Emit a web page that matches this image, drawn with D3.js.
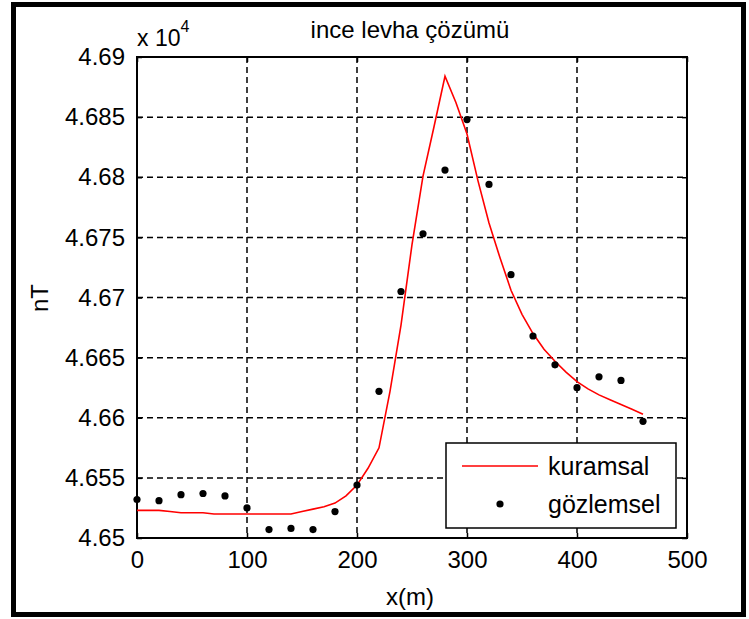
<!DOCTYPE html>
<head>
  <meta charset="utf-8">
  <script src="https://d3js.org/d3.v7.min.js"></script>
  <style>
    body { margin:0; background:#fff; }
    svg text { font-family: "Liberation Sans", Arial, sans-serif; fill:#000; }
  </style>
</head>
<body>
  <div class="chart"></div>
  <script>
    // observed points (gözlemsel), every 20 m, in nT
    const obsX = [0, 20, 40, 60, 80, 100, 120, 140, 160, 180, 200, 220,
                  240, 260, 280, 300, 320, 340, 360, 380, 400, 420, 440, 460];
    const obsY = [46532, 46531, 46536, 46537, 46535, 46525, 46507, 46508,
                  46507, 46522, 46544, 46622, 46705, 46753, 46806, 46848,
                  46794, 46719, 46668, 46644, 46625, 46634, 46631, 46597];

    // theoretical curve (kuramsal), every 10 m, in nT
    const thX = [0, 10, 20, 30, 40, 50, 60, 70, 80, 90, 100, 110, 120, 130,
                 140, 150, 160, 170, 180, 190, 200, 210, 220, 230, 240, 250,
                 260, 270, 280, 290, 300, 310, 320, 330, 340, 350, 360, 370,
                 380, 390, 400, 410, 420, 430, 440, 450, 460];
    const thY = [46523, 46523, 46523, 46522, 46521, 46521, 46521, 46520,
                 46520, 46520, 46520, 46520, 46520, 46520, 46520, 46522,
                 46524, 46526, 46529, 46535, 46544, 46558, 46575, 46622,
                 46677, 46744, 46801, 46842, 46884, 46862, 46836, 46797,
                 46762, 46733, 46706, 46686, 46670, 46657, 46647, 46638,
                 46630, 46624, 46619, 46615, 46611, 46607, 46603];

    const xTicks = [0, 100, 200, 300, 400, 500];
    const yTicks = [46500, 46550, 46600, 46650, 46700, 46750, 46800, 46850, 46900];
    const yTickLabels = ['4.65', '4.655', '4.66', '4.665', '4.67', '4.675', '4.68', '4.685', '4.69'];

    const W = 749, H = 619;
    const plot = { left: 137, top: 57, right: 687, bottom: 538 };

    const svg = d3.select('.chart').append('svg')
      .attr('width', W).attr('height', H);

    // outer frame
    svg.append('rect')
      .attr('x', 13.5).attr('y', 4.5)
      .attr('width', 730).attr('height', 610)
      .attr('fill', '#fff').attr('stroke', '#000').attr('stroke-width', 5);

    const x = d3.scaleLinear().domain([0, 500]).range([plot.left, plot.right]);
    const y = d3.scaleLinear().domain([46500, 46900]).range([plot.bottom, plot.top]);

    svg.append('rect')
      .attr('x', plot.left).attr('y', plot.top)
      .attr('width', plot.right - plot.left).attr('height', plot.bottom - plot.top)
      .attr('fill', '#fff');

    // grid
    const grid = svg.append('g')
      .attr('stroke', '#000').attr('stroke-width', 1.5)
      .attr('stroke-dasharray', '6,4');
    grid.selectAll('.gx').data(xTicks.slice(1, -1)).enter().append('line')
      .attr('x1', d => x(d)).attr('x2', d => x(d))
      .attr('y1', plot.top).attr('y2', plot.bottom);
    grid.selectAll('.gy').data(yTicks.slice(1, -1)).enter().append('line')
      .attr('x1', plot.left).attr('x2', plot.right)
      .attr('y1', d => y(d)).attr('y2', d => y(d));

    // axes, ticks pointing inward on all four sides
    const tickLen = 5;
    const fmtY = d => yTickLabels[yTicks.indexOf(d)];
    const axB = svg.append('g').attr('transform', `translate(0,${plot.bottom})`)
      .call(d3.axisBottom(x).tickValues(xTicks).tickSize(-tickLen).tickPadding(13));
    const axT = svg.append('g').attr('transform', `translate(0,${plot.top})`)
      .call(d3.axisTop(x).tickValues(xTicks).tickSize(-tickLen).tickFormat(''));
    const axL = svg.append('g').attr('transform', `translate(${plot.left},0)`)
      .call(d3.axisLeft(y).tickValues(yTicks).tickSize(-tickLen).tickPadding(12).tickFormat(fmtY));
    const axR = svg.append('g').attr('transform', `translate(${plot.right},0)`)
      .call(d3.axisRight(y).tickValues(yTicks).tickSize(-tickLen).tickFormat(''));
    [axB, axT, axL, axR].forEach(a => {
      a.select('.domain').remove();
      a.selectAll('line').attr('stroke', '#000').attr('stroke-width', 1.5);
      a.selectAll('text').style('font-size', '24px').attr('fill', '#000');
    });

    svg.append('rect')
      .attr('x', plot.left).attr('y', plot.top)
      .attr('width', plot.right - plot.left).attr('height', plot.bottom - plot.top)
      .attr('fill', 'none').attr('stroke', '#000').attr('stroke-width', 2);

    // theoretical line
    const line = d3.line().x((d, i) => x(thX[i])).y(d => y(d));
    svg.append('path')
      .attr('d', line(thY))
      .attr('fill', 'none').attr('stroke', '#ff0000').attr('stroke-width', 1.6);

    // observed dots
    svg.selectAll('.obs').data(obsY).enter().append('circle')
      .attr('cx', (d, i) => x(obsX[i])).attr('cy', d => y(d))
      .attr('r', 3.6).attr('fill', '#000');

    // legend
    const lg = svg.append('g');
    lg.append('rect')
      .attr('x', 446).attr('y', 443).attr('width', 230).attr('height', 85)
      .attr('fill', '#fff').attr('stroke', '#000').attr('stroke-width', 1.5);
    lg.append('line')
      .attr('x1', 462).attr('x2', 538).attr('y1', 466).attr('y2', 466)
      .attr('stroke', '#ff0000').attr('stroke-width', 1.6);
    lg.append('circle').attr('cx', 500).attr('cy', 504).attr('r', 3.6).attr('fill', '#000');
    lg.append('text').attr('x', 548).attr('y', 475).style('font-size', '25px').text('kuramsal');
    lg.append('text').attr('x', 548).attr('y', 513).style('font-size', '25px').text('gözlemsel');

    // labels
    svg.append('text').attr('x', 410).attr('y', 38).attr('text-anchor', 'middle')
      .style('font-size', '24px').text('ince levha çözümü');
    const mult = svg.append('text').attr('x', 137).attr('y', 46).style('font-size', '23px');
    mult.append('tspan').text('x 10');
    mult.append('tspan').attr('dy', -14).style('font-size', '16px').text('4');
    svg.append('text').attr('x', 410).attr('y', 605).attr('text-anchor', 'middle')
      .style('font-size', '24px').text('x(m)');
    svg.append('text')
      .attr('transform', 'translate(48,298) rotate(-90)')
      .attr('text-anchor', 'middle').style('font-size', '24px').text('nT');
  </script>
</body>
</html>
